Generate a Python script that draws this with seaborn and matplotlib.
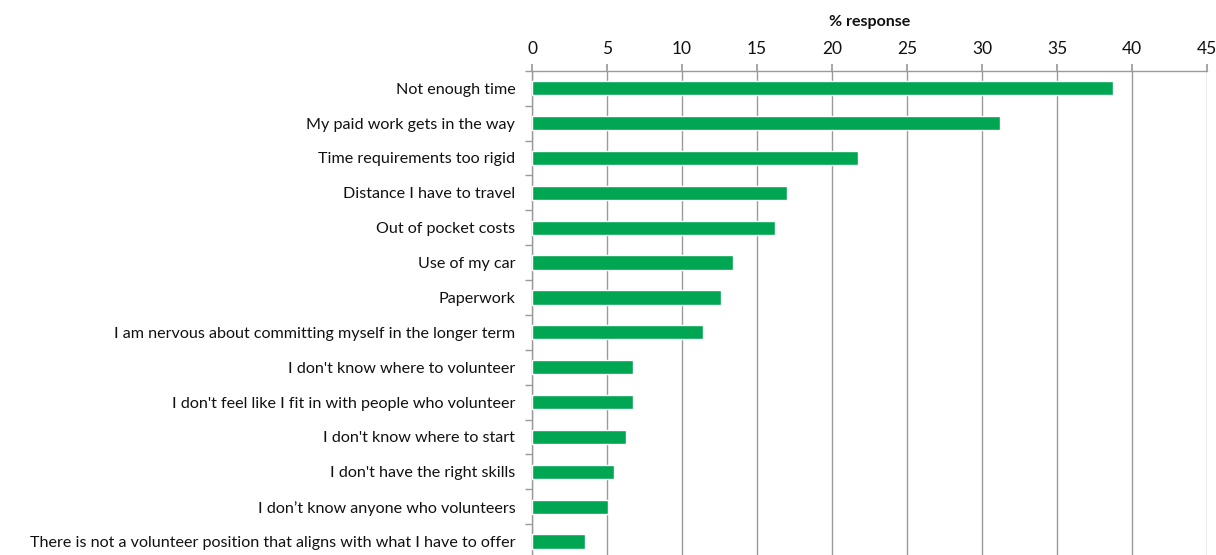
import matplotlib
matplotlib.use("Agg")
import matplotlib.pyplot as plt
import seaborn as sns
import pandas as pd
import numpy as np

reasons = [
    "Not enough time",
    "My paid work gets in the way",
    "Time requirements too rigid",
    "Distance I have to travel",
    "Out of pocket costs",
    "Use of my car",
    "Paperwork",
    "I am nervous about committing myself in the longer term",
    "I don't know where to volunteer",
    "I don't feel like I fit in with people who volunteer",
    "I don't know where to start",
    "I don't have the right skills",
    "I don\u2019t know anyone who volunteers",
    "There is not a volunteer position that aligns with what I have to offer",
]
pct_response = [38.7, 31.2, 21.7, 17.0, 16.2, 13.4, 12.6,
                11.4, 6.7, 6.7, 6.26, 5.46, 5.07, 3.5]
x_ticks = [0, 5, 10, 15, 20, 25, 30, 35, 40, 45]

df = pd.DataFrame({"reason": reasons, "pct": pct_response})

sns.set_theme(style="white")
plt.rcParams["font.family"] = ["Lato", "DejaVu Sans"]

fig = plt.figure(figsize=(12.16, 5.55), dpi=100)
ax = fig.add_axes([0.4375, -0.0072, 0.5551, 0.8797])

sns.barplot(data=df, x="pct", y="reason", orient="h", color="#00A651",
            saturation=1, width=0.41, ax=ax, zorder=3)

grid_col = "#9a9a9a"
ax.set_xlim(0, 45)
ax.set_ylim(len(reasons) - 0.5, -0.5)
ax.set_xticks(x_ticks)
ax.xaxis.tick_top()
ax.xaxis.set_label_position("top")
ax.set_xlabel("% response", fontsize=11.5, fontweight="bold", labelpad=11, color="#111111")
ax.set_ylabel("")
ax.grid(axis="x", color=grid_col, linewidth=1.0, zorder=0)
ax.set_axisbelow(True)

ax.tick_params(axis="x", which="major", top=True, bottom=False, direction="out",
               length=5, color=grid_col, labelsize=12.5, pad=5, labelcolor="#111111")
ax.tick_params(axis="y", which="major", length=0, labelsize=11.6, pad=12,
               labelcolor="#111111")
ax.set_yticks(np.arange(len(reasons) + 1) - 0.5, minor=True)
ax.tick_params(axis="y", which="minor", left=True, direction="out", length=5,
               color=grid_col, width=1.0)

for side in ("right", "bottom"):
    ax.spines[side].set_visible(False)
for side in ("top", "left"):
    ax.spines[side].set_color(grid_col)
    ax.spines[side].set_linewidth(1.0)

fig.savefig("out.png", dpi=100)
